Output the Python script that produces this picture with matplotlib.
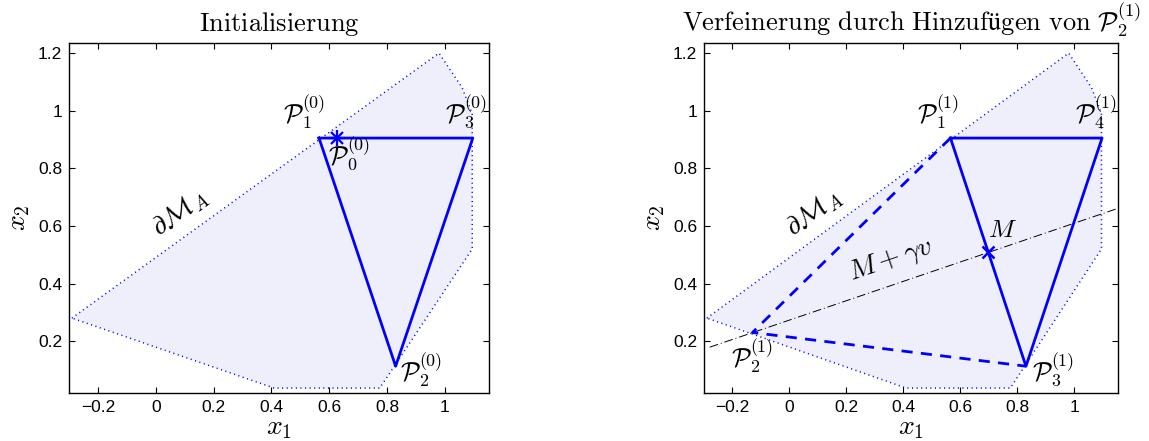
import matplotlib
matplotlib.use("Agg")
import matplotlib.pyplot as plt

plt.rcParams['mathtext.fontset'] = 'cm'
plt.rcParams['font.family'] = ['Liberation Sans', 'DejaVu Sans']

# feasible region boundary dM_A
region_x = [-0.29, 0.98, 1.06, 1.095, 1.095, 0.775, 0.41, -0.29]
region_y = [0.28, 1.20, 1.08, 0.99, 0.52, 0.037, 0.037, 0.28]

# initial triangle
init_x = [0.565, 0.83, 1.097, 0.565]
init_y = [0.905, 0.113, 0.905, 0.905]
p0 = (0.628, 0.905)

# refined: new point P2 and connections
new_pt = (-0.13, 0.23)
ref_tri_x = [0.565, 0.83, 1.097, 0.565]
ref_tri_y = [0.905, 0.113, 0.905, 0.905]
dash_x = [0.565, -0.13, 0.83]
dash_y = [0.905, 0.23, 0.113]
mid = (0.698, 0.509)
ray_x = [-0.28, 1.15]
ray_y = [0.179, 0.66]

xticks = [-0.2, 0, 0.2, 0.4, 0.6, 0.8, 1]
xticklabels = ['\u22120.2', '0', '0.2', '0.4', '0.6', '0.8', '1']
yticks = [0.2, 0.4, 0.6, 0.8, 1.0, 1.2]
yticklabels = ['0.2', '0.4', '0.6', '0.8', '1', '1.2']

fill_col = '#efeffb'
blue = '#0000ff'
lab = 18.5

fig = plt.figure(figsize=(11.49, 4.41), dpi=100)
ax1 = fig.add_axes([69 / 1149, 48 / 441, 420 / 1149, 350 / 441])
ax2 = fig.add_axes([704 / 1149, 48 / 441, 414 / 1149, 350 / 441])


def setup(ax):
    ax.fill(region_x, region_y, color=fill_col, lw=0, zorder=0)
    ax.plot(region_x, region_y, color=blue, lw=1.1, linestyle=(0, (0.7, 2.3)),
            dash_capstyle='butt', zorder=1)
    ax.set_xlim(-0.3, 1.153)
    ax.set_ylim(0.02, 1.235)
    ax.set_xticks(xticks)
    ax.set_xticklabels(xticklabels)
    ax.set_yticks(yticks)
    ax.set_yticklabels(yticklabels)
    ax.tick_params(direction='in', top=True, right=True, length=4, width=0.8,
                   labelsize=12.5, pad=5)
    for s in ax.spines.values():
        s.set_linewidth(1.0)
    ax.set_xlabel(r'$x_1$', fontsize=20, labelpad=0)
    ax.set_ylabel(r'$x_2$', fontsize=20, labelpad=4)
    ax.text(0.085, 0.645, r'$\partial\mathcal{M}_A$', fontsize=19.5, rotation=36,
            ha='center', va='center', rotation_mode='anchor')


setup(ax1)
ax1.plot(init_x, init_y, color=blue, lw=2.0)
# asterisk marker built from a plus and a cross
ax1.plot(*p0, marker='+', color=blue, ms=11, mew=1.6, linestyle='none')
ax1.plot(*p0, marker='x', color=blue, ms=8, mew=1.6, linestyle='none')
ax1.text(0.44, 0.93, r'$\mathcal{P}_1^{(0)}$', fontsize=lab, ha='left', va='bottom')
ax1.text(1.0, 0.93, r'$\mathcal{P}_3^{(0)}$', fontsize=lab, ha='left', va='bottom')
ax1.text(0.596, 0.785, r'$\mathcal{P}_0^{(0)}$', fontsize=lab, ha='left', va='bottom')
ax1.text(0.845, 0.035, r'$\mathcal{P}_2^{(0)}$', fontsize=lab, ha='left', va='bottom')
ax1.set_title(r'$\mathrm{Initialisierung}$', fontsize=19, pad=9)

setup(ax2)
ax2.plot(ray_x, ray_y, color='black', lw=0.7, linestyle=(0, (9, 3, 1, 3)))
ax2.plot(ref_tri_x, ref_tri_y, color=blue, lw=2.0)
ax2.plot(dash_x, dash_y, color=blue, lw=2.0, linestyle=(0, (4, 3)))
ax2.plot(*mid, marker='x', color=blue, ms=8, mew=1.8, linestyle='none')
ax2.text(0.446, 0.93, r'$\mathcal{P}_1^{(1)}$', fontsize=lab, ha='left', va='bottom')
ax2.text(1.003, 0.93, r'$\mathcal{P}_4^{(1)}$', fontsize=lab, ha='left', va='bottom')
ax2.text(-0.206, 0.083, r'$\mathcal{P}_2^{(1)}$', fontsize=lab, ha='left', va='bottom')
ax2.text(0.851, 0.035, r'$\mathcal{P}_3^{(1)}$', fontsize=lab, ha='left', va='bottom')
ax2.text(0.698, 0.545, r'$M$', fontsize=lab, ha='left', va='bottom')
ax2.text(0.226, 0.385, r'$M+\gamma v$', fontsize=20, ha='left', va='bottom',
         rotation=18.8, rotation_mode='anchor')
ax2.set_title(r'$\mathrm{Verfeinerung\ durch\ Hinzufügen\ von}\ \mathcal{P}_2^{(1)}$',
              fontsize=19, pad=9)

fig.savefig('out.png', dpi=100)
